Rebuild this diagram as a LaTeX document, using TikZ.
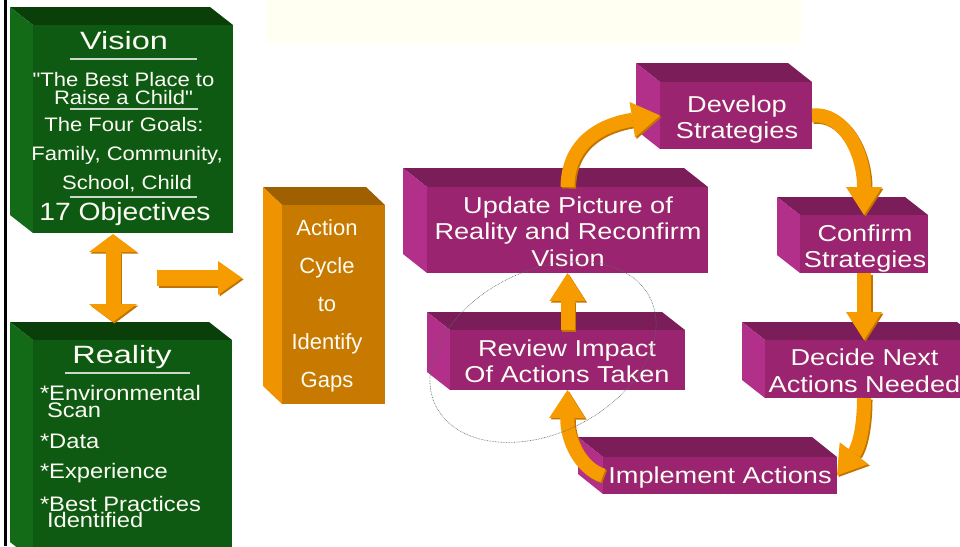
\documentclass[tikz,border=0pt]{standalone}
\usepackage{fontspec}
\setmainfont{Liberation Sans}
\newfontfamily\headfont[FakeStretch=1.3]{Liberation Sans}
\newfontfamily\bodyfont[FakeStretch=1.13]{Liberation Sans}
\newfontfamily\stepfont[FakeStretch=1.18]{Liberation Sans}
\usetikzlibrary{arrows.meta}

\definecolor{greenFront}{HTML}{0F5A12}
\definecolor{greenTop}{HTML}{0A3F0A}
\definecolor{greenSide}{HTML}{146B17}
\definecolor{purpFront}{HTML}{9A2470}
\definecolor{purpTop}{HTML}{7A1D58}
\definecolor{purpSide}{HTML}{B22F8A}
\definecolor{orFront}{HTML}{C77900}
\definecolor{orTop}{HTML}{9E6000}
\definecolor{orSide}{HTML}{F09300}
\definecolor{arrowOrange}{HTML}{F79C00}
\definecolor{arrowDark}{HTML}{C27400}
\definecolor{txt}{HTML}{FCFCF4}
\definecolor{cream}{HTML}{FFFFF2}
\definecolor{ringCol}{HTML}{55705A}
\definecolor{ruleCol}{HTML}{C9D8C8}

% a box drawn as a front face (named node) with a top and a left face behind it
% #1 name, #2 #3 front top-left, #4 #5 front bottom-right, #6 #7 depth, #8 colour scheme
\newcommand\block[8]{%
  \fill[#8top] (#2,#3) -- (#4,#3) -- ({#4-#6},{#3-#7}) -- ({#2-#6},{#3-#7}) -- cycle;
  \fill[#8side] (#2,#3) -- (#2,#5) -- ({#2-#6},{#5-#7}) -- ({#2-#6},{#3-#7}) -- cycle;
  \node[#8front, anchor=north west, minimum width={(#4-#2)*1pt},
        minimum height={(#5-#3)*1pt}] (#1) at (#2,#3) {};%
}
% stacked lines with a fixed line distance; the first line carries the baseline
\newcommand\centerlines[2]{\vtop{\baselineskip=#1\lineskiplimit=-100pt\lineskip=0pt
  \halign{\hfil##\hfil\cr#2\crcr}}}
\newcommand\leftlines[2]{\vtop{\baselineskip=#1\lineskiplimit=-100pt\lineskip=0pt
  \halign{##\hfil\cr#2\crcr}}}
% an orange arrow with a darker bevel below it
\newcommand\flowarrow[2]{%
  \draw[#1, draw=arrowDark, transform canvas={shift={(1.5pt,-1.5pt)}}] #2;
  \draw[#1] #2;%
}

\begin{document}
\begin{tikzpicture}[x=1pt,y=-1pt,
  every node/.style={inner sep=0pt, outer sep=0pt},
  greentop/.style={fill=greenTop}, greenside/.style={fill=greenSide},
  greenfront/.style={fill=greenFront},
  purptop/.style={fill=purpTop}, purpside/.style={fill=purpSide},
  purpfront/.style={fill=purpFront},
  ortop/.style={fill=orTop}, orside/.style={fill=orSide},
  orfront/.style={fill=orFront},
  headtxt/.style={anchor=base, font=\headfont\fontsize{25}{25}\selectfont, text=txt},
  bodytxt/.style={anchor=base, font=\bodyfont\fontsize{19.5}{19.5}\selectfont, text=txt},
  listtxt/.style={anchor=base west, font=\bodyfont\fontsize{21}{21}\selectfont, text=txt},
  bigtxt/.style={anchor=base, font=\bodyfont\fontsize{25}{25}\selectfont, text=txt},
  gaptxt/.style={anchor=base, font=\fontsize{22}{22}\selectfont, text=txt},
  steptxt/.style={anchor=base, font=\stepfont\fontsize{23}{23}\selectfont, text=txt},
  rulestroke/.style={draw=ruleCol, line width=1.4pt},
  flow/.style={draw=arrowOrange, line width=14pt,
    -{Triangle[length=28pt,width=36pt,line width=0pt]}},
  twoway/.style={draw=arrowOrange, line width=15pt,
    {Triangle[length=18pt,width=48pt,line width=0pt]}-{Triangle[length=18pt,width=48pt,line width=0pt]}},
  oneway/.style={draw=arrowOrange, line width=16pt,
    -{Triangle[length=24pt,width=34pt,line width=0pt]}},
  ring/.style={draw=ringCol, line width=0.6pt, dash pattern=on 0.7pt off 0.9pt}
]
\useasboundingbox (0,0) rectangle (960,546);
\fill[white] (0,0) rectangle (960,546);
\fill[cream] (266,0) rectangle (801,44);
\fill[black] (3.5,0) rectangle (6.5,546);

% left column
\block{vis}{33}{25}{233}{233}{23}{18}{green}
\block{real}{33}{340}{232}{560}{23}{18}{green}
\block{act}{282}{205}{385}{404}{19}{18}{or}

% action cycle
\block{dev}{660}{82}{812}{149}{24}{19}{purp}
\block{conf}{800}{215}{928}{273}{23}{18}{purp}
\block{upd}{427}{187}{708}{273}{24}{19}{purp}
\block{rev}{450}{330}{685}{390}{23}{18}{purp}
\block{dec}{765}{340}{980}{398}{23}{18}{purp}
\block{impl}{603}{457}{837}{494}{25}{20}{purp}

% arrows of the left column
\coordinate (vr-top) at (113,234);
\coordinate (vr-bot) at (113,322);
\coordinate (va-out) at (157,278);
\coordinate (act-in) at (242,278);
\flowarrow{twoway}{(vr-top) -- (vr-bot)}
\flowarrow{oneway}{(va-out) -- (act-in)}

% arrows of the cycle
\flowarrow{flow}{(upd.north) .. controls (568,140) and (605,124) .. (dev.west)}
\flowarrow{flow}{(dev.east) .. controls (842,112) and (864,150) .. (conf.north)}
\flowarrow{flow}{(conf.south) -- (conf.south |- dec.north)}
\flowarrow{flow}{(conf.south |- dec.south) .. controls (864,430) and (858,448) .. (impl.east)}
\flowarrow{flow}{(impl.west) .. controls (580,468) and (567,440) .. (rev.south)}
\flowarrow{flow}{(rev.north) -- (upd.south)}

% Vision
\node[headtxt] (vis-t) at (124,49) {Vision};
\draw[rulestroke] (70,59) -- (197,59);
\node[bodytxt] (vis-1) at (123.5,86) {\centerlines{18pt}{"The Best Place to\cr Raise a Child"}};
\draw[rulestroke] (70,109) -- (198,109);
\node[bodytxt] (vis-3) at (124,131) {The Four Goals:};
\node[bodytxt] (vis-4) at (127,160) {Family, Community,};
\node[bodytxt] (vis-5) at (127,189) {School, Child};
\draw[rulestroke] (70,197) -- (197,197);
\node[bigtxt] (vis-6) at (125,220) {17 Objectives};

% Reality
\node[headtxt] (real-t) at (122,363) {Reality};
\draw[rulestroke] (65,373) -- (190,373);
\node[listtxt] (real-1) at (40,400) {\leftlines{17pt}{*Environmental\cr \hspace*{7pt}Scan}};
\node[listtxt] (real-2) at (40,448) {*Data};
\node[listtxt] (real-3) at (40,478) {*Experience};
\node[listtxt] (real-4) at (40,511) {\leftlines{16.5pt}{*Best Practices\cr \hspace*{7pt}Identified}};

% gap box
\node[gaptxt] (act-t) at (327,235) {\centerlines{38pt}{Action\cr Cycle\cr to\cr Identify\cr Gaps}};

% cycle steps
\node[steptxt] (dev-t) at (737,112) {\centerlines{26pt}{Develop\cr Strategies}};
\node[steptxt] (conf-t) at (865,241) {\centerlines{26pt}{Confirm\cr Strategies}};
\node[steptxt] (upd-t) at (568,213) {\centerlines{26.5pt}{Update Picture of\cr Reality and Reconfirm\cr Vision}};
\node[steptxt] (rev-t) at (567,356) {\centerlines{26pt}{Review Impact\cr Of Actions Taken}};
\node[steptxt] (dec-t) at (864.5,365) {\centerlines{27pt}{Decide Next\cr Actions Needed}};
\node[steptxt] (impl-t) at (720,483) {Implement Actions};

% dotted ring around the review step
\draw[ring, rotate around={27:(543,352)}] (543,352) ellipse (120 and 81);
\end{tikzpicture}
\end{document}
